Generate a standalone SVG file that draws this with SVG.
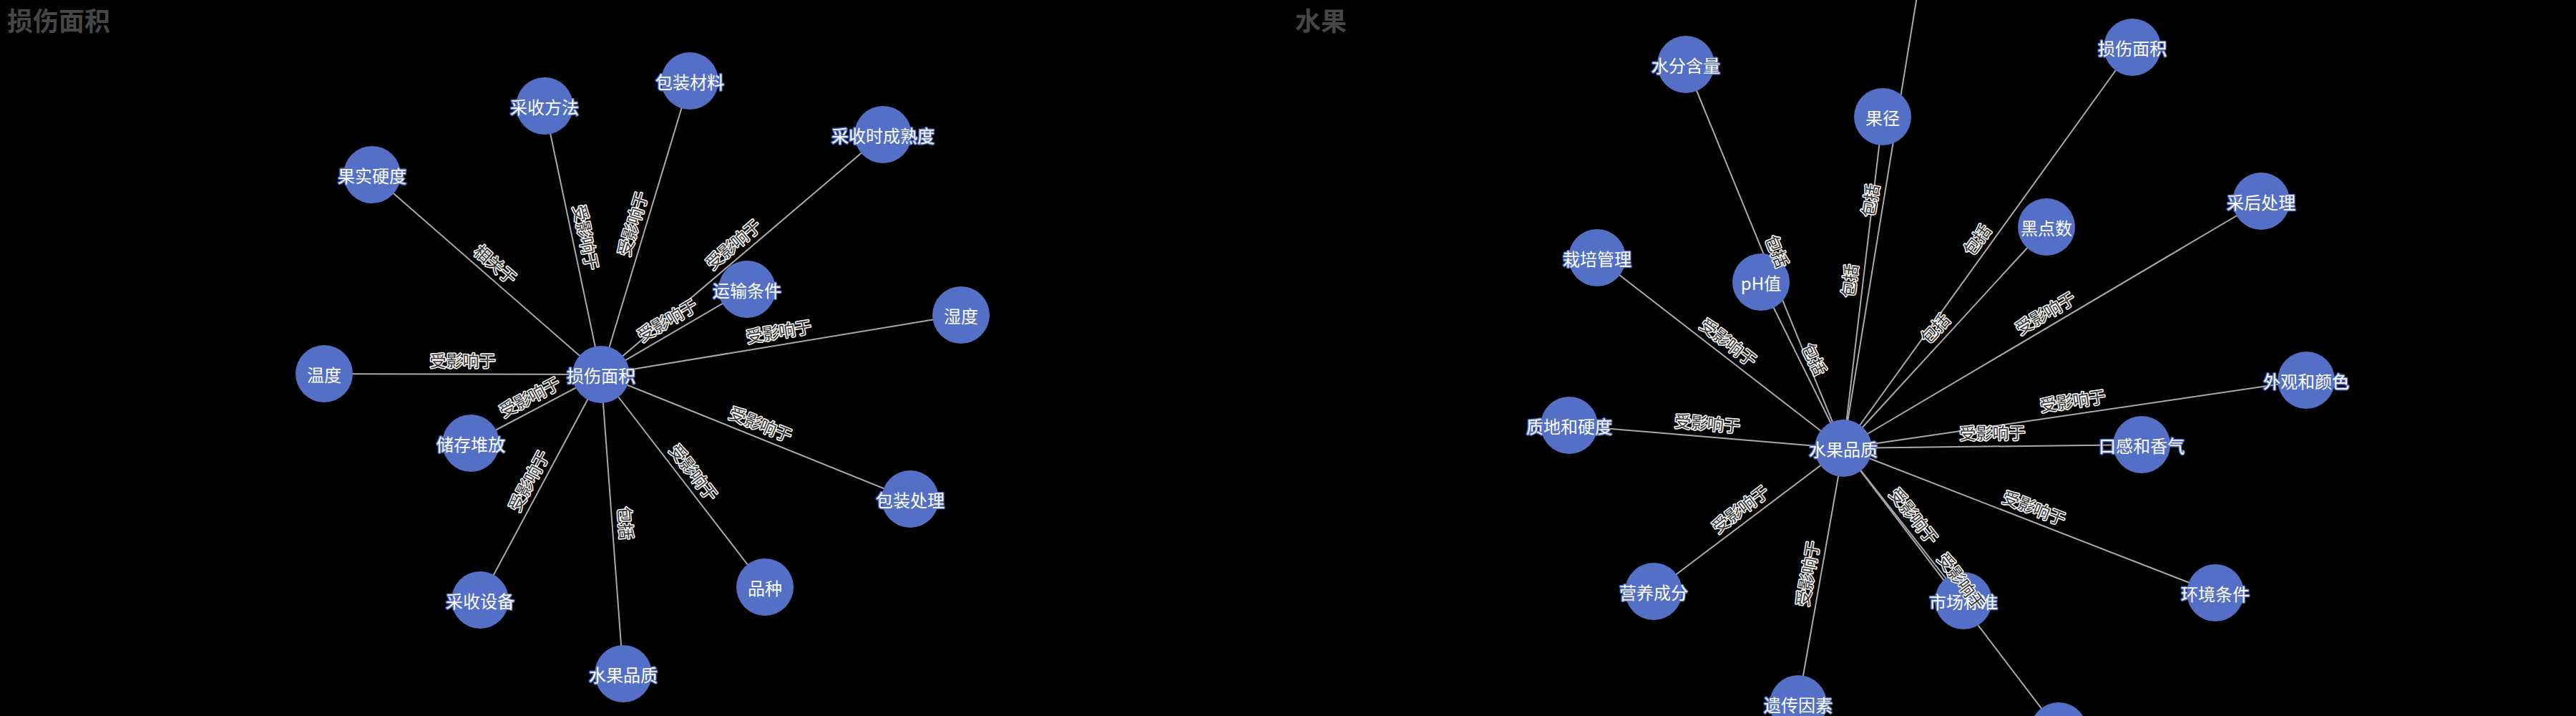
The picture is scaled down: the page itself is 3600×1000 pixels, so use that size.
<svg xmlns="http://www.w3.org/2000/svg" width="3600" height="1000" viewBox="0 0 3600 1000">
<style>
.title{font-family:"Noto Sans CJK SC","Noto Sans",sans-serif;font-size:36px;font-weight:bold;fill:#464646}
.edge{stroke:#aaa;stroke-width:2;fill:none}
.node circle{fill:#5470c6}
.nl{font-family:"Noto Sans CJK SC","Noto Sans",sans-serif;font-size:24px;fill:#fff;stroke:#5470c6;stroke-width:3;stroke-linejoin:round;paint-order:stroke;text-anchor:middle;dominant-baseline:central}
.el{font-family:"Noto Sans CJK SC","Noto Sans",sans-serif;font-size:23px;fill:#333;stroke:#fff;stroke-width:3;stroke-linejoin:round;paint-order:stroke;text-anchor:middle;dominant-baseline:central}
</style>
<rect x="0" y="0" width="3600" height="1000" fill="#000"/>
<text class="title" x="10" y="43">损伤面积</text>
<text class="title" x="1810" y="43">水果</text>

<g id="connectors">
<line class="edge" x1="840" y1="523" x2="520" y2="244"/>
<line class="edge" x1="840" y1="523" x2="761" y2="148"/>
<line class="edge" x1="840" y1="523" x2="964" y2="113"/>
<line class="edge" x1="840" y1="523" x2="1234" y2="188"/>
<line class="edge" x1="840" y1="523" x2="1044" y2="404"/>
<line class="edge" x1="840" y1="523" x2="1343" y2="440"/>
<line class="edge" x1="840" y1="523" x2="453" y2="522"/>
<line class="edge" x1="840" y1="523" x2="658" y2="619"/>
<line class="edge" x1="840" y1="523" x2="1272" y2="697"/>
<line class="edge" x1="840" y1="523" x2="1069" y2="820"/>
<line class="edge" x1="840" y1="523" x2="671" y2="838"/>
<line class="edge" x1="840" y1="523" x2="871" y2="941"/>

<line class="edge" x1="2576" y1="626" x2="2356" y2="90"/>
<line class="edge" x1="2576" y1="626" x2="2631" y2="163"/>
<line class="edge" x1="2576" y1="626" x2="2688" y2="-60"/>
<line class="edge" x1="2576" y1="626" x2="2980" y2="66"/>
<line class="edge" x1="2576" y1="626" x2="2860" y2="317"/>
<line class="edge" x1="2576" y1="626" x2="3160" y2="281"/>
<line class="edge" x1="2576" y1="626" x2="2232" y2="360"/>
<line class="edge" x1="2576" y1="626" x2="2461" y2="394"/>
<line class="edge" x1="2576" y1="626" x2="3223" y2="531"/>
<line class="edge" x1="2576" y1="626" x2="2193" y2="594"/>
<line class="edge" x1="2576" y1="626" x2="2993" y2="621"/>
<line class="edge" x1="2576" y1="626" x2="2311" y2="826"/>
<line class="edge" x1="2576" y1="626" x2="2744" y2="839"/>
<line class="edge" x1="2576" y1="626" x2="3096" y2="828"/>
<line class="edge" x1="2576" y1="626" x2="2513" y2="983"/>
<line class="edge" x1="2576" y1="626" x2="2877" y2="1021"/>
</g>

<g id="n-sunshang" class="node"><circle cx="840" cy="523" r="40"/><text class="nl" x="840" y="523">损伤面积</text></g>
<g id="n-guoshiyingdu" class="node"><circle cx="520" cy="244" r="40"/><text class="nl" x="520" y="244">果实硬度</text></g>
<g id="n-caishoufangfa" class="node"><circle cx="761" cy="148" r="40"/><text class="nl" x="761" y="148">采收方法</text></g>
<g id="n-baozhuangcailiao" class="node"><circle cx="964" cy="113" r="40"/><text class="nl" x="964" y="113">包装材料</text></g>
<g id="n-chengshudu" class="node"><circle cx="1234" cy="188" r="40"/><text class="nl" x="1234" y="188">采收时成熟度</text></g>
<g id="n-yunshu" class="node"><circle cx="1044" cy="404" r="40"/><text class="nl" x="1044" y="404">运输条件</text></g>
<g id="n-shidu" class="node"><circle cx="1343" cy="440" r="40"/><text class="nl" x="1343" y="440">湿度</text></g>
<g id="n-wendu" class="node"><circle cx="453" cy="522" r="40"/><text class="nl" x="453" y="522">温度</text></g>
<g id="n-chucun" class="node"><circle cx="658" cy="619" r="40"/><text class="nl" x="658" y="619">储存堆放</text></g>
<g id="n-baozhuangchuli" class="node"><circle cx="1272" cy="697" r="40"/><text class="nl" x="1272" y="697">包装处理</text></g>
<g id="n-pinzhong" class="node"><circle cx="1069" cy="820" r="40"/><text class="nl" x="1069" y="820">品种</text></g>
<g id="n-caishoushebei" class="node"><circle cx="671" cy="838" r="40"/><text class="nl" x="671" y="838">采收设备</text></g>
<g id="n-shuiguopinzhi-1" class="node"><circle cx="871" cy="941" r="40"/><text class="nl" x="871" y="941">水果品质</text></g>

<g id="n-shuiguopinzhi" class="node"><circle cx="2576" cy="626" r="40"/><text class="nl" x="2576" y="626">水果品质</text></g>
<g id="n-shuifen" class="node"><circle cx="2356" cy="90" r="40"/><text class="nl" x="2356" y="90">水分含量</text></g>
<g id="n-guojing" class="node"><circle cx="2631" cy="163" r="40"/><text class="nl" x="2631" y="163">果径</text></g>
<g id="n-sunshang-2" class="node"><circle cx="2980" cy="66" r="40"/><text class="nl" x="2980" y="66">损伤面积</text></g>
<g id="n-heidian" class="node"><circle cx="2860" cy="317" r="40"/><text class="nl" x="2860" y="317">黑点数</text></g>
<g id="n-caihou" class="node"><circle cx="3160" cy="281" r="40"/><text class="nl" x="3160" y="281">采后处理</text></g>
<g id="n-zaipei" class="node"><circle cx="2232" cy="360" r="40"/><text class="nl" x="2232" y="360">栽培管理</text></g>
<g id="n-ph" class="node"><circle cx="2461" cy="394" r="40"/><text class="nl" x="2461" y="394">pH值</text></g>
<g id="n-waiguan" class="node"><circle cx="3223" cy="531" r="40"/><text class="nl" x="3223" y="531">外观和颜色</text></g>
<g id="n-zhidi" class="node"><circle cx="2193" cy="594" r="40"/><text class="nl" x="2193" y="594">质地和硬度</text></g>
<g id="n-kougan" class="node"><circle cx="2993" cy="621" r="40"/><text class="nl" x="2993" y="621">口感和香气</text></g>
<g id="n-yingyang" class="node"><circle cx="2311" cy="826" r="40"/><text class="nl" x="2311" y="826">营养成分</text></g>
<g id="n-shichang" class="node"><circle cx="2744" cy="839" r="40"/><text class="nl" x="2744" y="839">市场标准</text></g>
<g id="n-huanjing" class="node"><circle cx="3096" cy="828" r="40"/><text class="nl" x="3096" y="828">环境条件</text></g>
<g id="n-yichuan" class="node"><circle cx="2513" cy="983" r="40"/><text class="nl" x="2513" y="983">遗传因素</text></g>
<g id="n-bottom" class="node"><circle cx="2877" cy="1021" r="40"/></g>

<g id="edge-labels">
<g transform="translate(680,383.5) rotate(41.1)"><text class="el" x="0" y="-20">相关于</text></g>
<g transform="translate(800.5,335.5) rotate(78.1)"><text class="el" x="0" y="-20">受影响于</text></g>
<g transform="translate(902,318) rotate(-73.2)"><text class="el" x="0" y="-20">受影响于</text></g>
<g transform="translate(1037,355.5) rotate(-40.4)"><text class="el" x="0" y="-20">受影响于</text></g>
<g transform="translate(942,463.5) rotate(-30.3)"><text class="el" x="0" y="-20">受影响于</text></g>
<g transform="translate(1091.5,481.5) rotate(-9.4)"><text class="el" x="0" y="-20">受影响于</text></g>
<g transform="translate(646.5,522.5) rotate(0.15)"><text class="el" x="0" y="-20">受影响于</text></g>
<g transform="translate(749,571) rotate(-27.8)"><text class="el" x="0" y="-20">受影响于</text></g>
<g transform="translate(1056,610) rotate(21.9)"><text class="el" x="0" y="-20">受影响于</text></g>
<g transform="translate(954.5,671.5) rotate(52.4)"><text class="el" x="0" y="-20">受影响于</text></g>
<g transform="translate(755.5,680.5) rotate(-61.8)"><text class="el" x="0" y="-20">受影响于</text></g>
<g transform="translate(855.5,732) rotate(85.8)"><text class="el" x="0" y="-20">包括</text></g>

<g transform="translate(2466,358) rotate(67.7)"><text class="el" x="0" y="-20">包括</text></g>
<g transform="translate(2603.5,394.5) rotate(-83.2)"><text class="el" x="0" y="-20">包括</text></g>
<g transform="translate(2632,283) rotate(-80.7)"><text class="el" x="0" y="-20">包括</text></g>
<g transform="translate(2778,346) rotate(-54.2)"><text class="el" x="0" y="-20">包括</text></g>
<g transform="translate(2718,471.5) rotate(-47.4)"><text class="el" x="0" y="-20">包括</text></g>
<g transform="translate(2868,453.5) rotate(-30.6)"><text class="el" x="0" y="-20">受影响于</text></g>
<g transform="translate(2404,493) rotate(37.7)"><text class="el" x="0" y="-20">受影响于</text></g>
<g transform="translate(2518.5,510) rotate(63.6)"><text class="el" x="0" y="-20">包括</text></g>
<g transform="translate(2899.5,578.5) rotate(-8.35)"><text class="el" x="0" y="-20">受影响于</text></g>
<g transform="translate(2384.5,610) rotate(4.8)"><text class="el" x="0" y="-20">受影响于</text></g>
<g transform="translate(2784.5,623.5) rotate(-0.69)"><text class="el" x="0" y="-20">受影响于</text></g>
<g transform="translate(2443.5,726) rotate(-37)"><text class="el" x="0" y="-20">受影响于</text></g>
<g transform="translate(2660,732.5) rotate(51.7)"><text class="el" x="0" y="-20">受影响于</text></g>
<g transform="translate(2836,727) rotate(21.2)"><text class="el" x="0" y="-20">受影响于</text></g>
<g transform="translate(2544.5,804.5) rotate(-80)"><text class="el" x="0" y="-20">受影响于</text></g>
<g transform="translate(2726.5,823.5) rotate(52.7)"><text class="el" x="0" y="-20">受影响于</text></g>
</g>
</svg>
